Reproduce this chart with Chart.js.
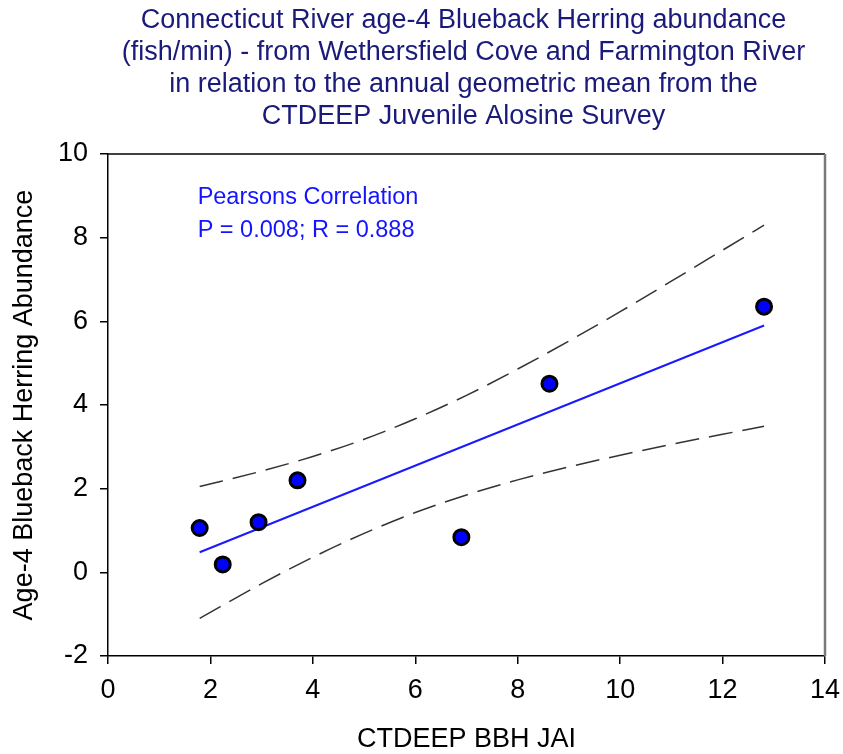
<!DOCTYPE html>
<html>
<head>
<meta charset="utf-8">
<script src="https://cdn.jsdelivr.net/npm/chart.js@4"></script>
<style>
  html, body { margin: 0; padding: 0; background: #fff; }
  #wrap { width: 843px; height: 754px; position: relative; }
</style>
</head>
<body>
<div id="wrap"><canvas id="c"></canvas></div>
<script>
// ---- data ----
const titleLines = [
  "Connecticut River age-4 Blueback Herring abundance",
  "(fish/min) - from Wethersfield Cove and Farmington River",
  "in relation to the annual geometric mean from the",
  "CTDEEP Juvenile Alosine Survey"
];
const xTitle = "CTDEEP BBH JAI";
const yTitle = "Age-4 Blueback Herring Abundance";
const noteLines = ["Pearsons Correlation", "P = 0.008; R = 0.888"];

const jai       = [1.79, 2.24, 2.94, 3.70, 6.90, 8.62, 12.81];
const abundance = [1.06, 0.19, 1.20, 2.20, 0.84, 4.51, 6.35];

const fitX = [1.79, 12.81];
const fitY = [0.48, 5.90];

const bandX     = [1.79, 3, 4, 5, 6, 7, 8, 9, 10, 11, 12, 12.81];
const bandUpper = [2.05, 2.42, 2.77, 3.18, 3.67, 4.23, 4.86, 5.53, 6.23, 6.96, 7.70, 8.30];
const bandLower = [-1.10, -0.27, 0.36, 0.93, 1.43, 1.85, 2.21, 2.52, 2.80, 3.06, 3.30, 3.49];

const xTicks = [0, 2, 4, 6, 8, 10, 12, 14];
const yTicks = [-2, 0, 2, 4, 6, 8, 10];

// ---- build datasets ----
const pts = (xs, ys) => xs.map((x, i) => ({ x: x, y: ys[i] }));
const FONT = "'Liberation Sans', Arial, sans-serif";

const decor = {
  id: 'decor',
  afterDraw(chart) {
    const { ctx, chartArea: a, scales } = chart;
    ctx.save();
    // top and right frame
    ctx.strokeStyle = '#000';
    ctx.lineWidth = 1.5;
    ctx.beginPath();
    ctx.moveTo(a.left, a.top);
    ctx.lineTo(a.right, a.top);
    ctx.stroke();
    ctx.strokeStyle = '#7a7a7a';
    ctx.lineWidth = 2.5;
    ctx.beginPath();
    ctx.moveTo(a.right, a.top);
    ctx.lineTo(a.right, a.bottom);
    ctx.stroke();
    // title
    ctx.fillStyle = '#1a1a7a';
    ctx.font = '27px ' + FONT;
    ctx.textAlign = 'center';
    ctx.textBaseline = 'middle';
    const cx = (a.left + a.right) / 2 - 3;
    titleLines.forEach((t, i) => ctx.fillText(t, cx, 21 + i * 32));
    // correlation note
    ctx.fillStyle = '#1414ff';
    ctx.font = '23.5px ' + FONT;
    ctx.textAlign = 'left';
    const nx = scales.x.getPixelForValue(1.75);
    ctx.fillText(noteLines[0], nx, scales.y.getPixelForValue(8.97));
    ctx.fillText(noteLines[1], nx, scales.y.getPixelForValue(8.16));
    ctx.restore();
  }
};

new Chart(document.getElementById('c'), {
  type: 'scatter',
  data: {
    datasets: [
      {
        type: 'line', data: pts(bandX, bandUpper), borderColor: '#333',
        borderWidth: 1.5, borderDash: [24, 10], pointRadius: 0,
        cubicInterpolationMode: 'monotone', fill: false, order: 3
      },
      {
        type: 'line', data: pts(bandX, bandLower), borderColor: '#333',
        borderWidth: 1.5, borderDash: [24, 10], pointRadius: 0,
        cubicInterpolationMode: 'monotone', fill: false, order: 3
      },
      {
        type: 'line', data: pts(fitX, fitY), borderColor: '#1a1aff',
        borderWidth: 2, pointRadius: 0, fill: false, order: 2
      },
      {
        data: pts(jai, abundance), backgroundColor: '#0000ff',
        borderColor: '#000', borderWidth: 3, pointRadius: 7.5,
        pointHoverRadius: 7.5, order: 1
      }
    ]
  },
  options: {
    responsive: true,
    maintainAspectRatio: false,
    animation: false,
    events: [],
    layout: { padding: { top: 154, right: 18, left: 0, bottom: 0 } },
    plugins: { legend: { display: false }, tooltip: { enabled: false }, title: { display: false } },
    scales: {
      x: {
        type: 'linear', min: 0, max: 14,
        afterBuildTicks: s => { s.ticks = xTicks.map(v => ({ value: v })); },
        afterFit: s => { s.height = 98; s.paddingRight = 0; s.paddingLeft = 0; },
        grid: { display: true, drawOnChartArea: false, drawTicks: true, tickLength: 8, color: '#000', lineWidth: 1.5 },
        border: { display: true, color: '#000', width: 1.5 },
        ticks: { color: '#000', font: { family: FONT, size: 27 }, padding: 10, maxRotation: 0, autoSkip: false },
        title: { display: true, text: xTitle, color: '#000', font: { family: FONT, size: 27, lineHeight: 1.0 }, padding: { top: 0, bottom: 1 } }
      },
      y: {
        type: 'linear', min: -2, max: 10,
        afterBuildTicks: s => { s.ticks = yTicks.map(v => ({ value: v })); },
        afterFit: s => { s.width = 108; s.paddingTop = 0; s.paddingBottom = 0; },
        grid: { display: true, drawOnChartArea: false, drawTicks: true, tickLength: 8, color: '#000', lineWidth: 1.5 },
        border: { display: true, color: '#000', width: 1.5 },
        ticks: { color: '#000', font: { family: FONT, size: 27 }, padding: 12, autoSkip: false },
        title: { display: true, text: yTitle, color: '#000', font: { family: FONT, size: 27, lineHeight: 1.0 }, padding: { top: 11, bottom: 0 } }
      }
    }
  },
  plugins: [decor]
});
</script>
</body>
</html>
